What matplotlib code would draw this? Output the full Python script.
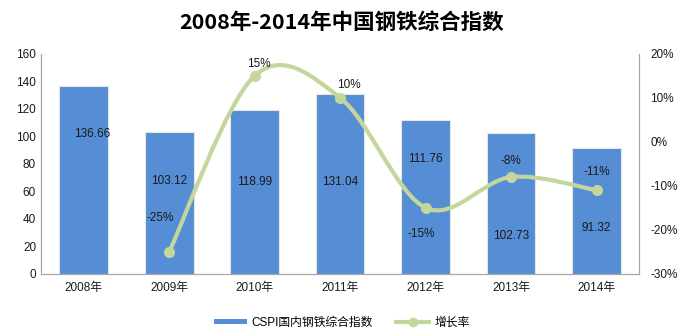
import matplotlib.pyplot as plt
import numpy as np
from matplotlib.path import Path
from matplotlib.patches import PathPatch, Patch
from matplotlib.lines import Line2D

plt.rcParams['font.family'] = ['Liberation Sans', 'Noto Sans CJK SC', 'DejaVu Sans']

years = ["2008年", "2009年", "2010年", "2011年", "2012年", "2013年", "2014年"]
cspi = [136.66, 103.12, 118.99, 131.04, 111.76, 102.73, 91.32]
growth_years = years[1:]
growth = [-25, 15, 10, -15, -8, -11]
growth_labels = ["-25%", "15%", "10%", "-15%", "-8%", "-11%"]

BAR_C = "#558ED5"
LINE_C = "#C3D69B"
AX_C = "#A6A6A6"

# label placement (moved by hand in the original)
bar_lab_y = [102, 67.6, 67, 67, 83.6, 27.6, 33.5]
bar_lab_dx = [0.1, 0, 0, 0, 0, 0, 0]
pct_lab_y = [-17.3, 17.7, 13, -20.9, -4.3, -6.8]
pct_lab_dx = [-0.1, 0.05, 0.1, -0.05, 0, 0]


def smooth_path(x, y, t=1 / 6):
    x, y = np.asarray(x, float), np.asarray(y, float)
    verts = [(x[0], y[0])]
    codes = [Path.MOVETO]
    n = len(x)
    for i in range(n - 1):
        p0 = (x[i - 1], y[i - 1]) if i > 0 else (x[i], y[i])
        p1 = (x[i], y[i])
        p2 = (x[i + 1], y[i + 1])
        p3 = (x[i + 2], y[i + 2]) if i + 2 < n else p2
        c1 = (p1[0] + (p2[0] - p0[0]) * t, p1[1] + (p2[1] - p0[1]) * t)
        c2 = (p2[0] - (p3[0] - p1[0]) * t, p2[1] - (p3[1] - p1[1]) * t)
        verts += [c1, c2, p2]
        codes += [Path.CURVE4] * 3
    return Path(verts, codes)


fig = plt.figure(figsize=(6.83, 3.36), dpi=100)
ax = fig.add_axes([0.060, 0.185, 0.876, 0.655])
ax2 = ax.twinx()

xs = np.arange(len(years))
ax.bar(xs, cspi, width=0.57, color=BAR_C, edgecolor="#E6E6E6", linewidth=0.8, zorder=2)
for i, v in enumerate(cspi):
    ax.text(xs[i] + bar_lab_dx[i], bar_lab_y[i], f"{v:.2f}", ha="center", va="center",
            fontsize=8.5, color="#1a1a1a", zorder=5)

ax.set_xlim(-0.5, len(years) - 0.5)
ax.set_ylim(0, 160)
ax.set_yticks(np.arange(0, 161, 20))
ax.set_xticks(xs)
ax.set_xticklabels(years)
ax.tick_params(axis="both", length=0, labelsize=8.5, colors="#1a1a1a")
ax.tick_params(axis="x", pad=6)

gx = xs[1:]
ax2.add_patch(PathPatch(smooth_path(gx, growth), fill=False, edgecolor=LINE_C, lw=3, zorder=3,
                        capstyle="round"))
ax2.plot(gx, growth, "o", color=LINE_C, ms=7, zorder=4)
for i, lab in enumerate(growth_labels):
    ax2.text(gx[i] + pct_lab_dx[i], pct_lab_y[i], lab, ha="center", va="center",
             fontsize=8.5, color="#1a1a1a", zorder=5)
ax2.set_ylim(-30, 20)
ax2.set_yticks(np.arange(-30, 21, 10))
ax2.set_yticklabels([f"{v}%" for v in range(-30, 21, 10)])
ax2.tick_params(axis="y", length=0, labelsize=8.5, colors="#1a1a1a", pad=8)

for a in (ax, ax2):
    a.spines["top"].set_visible(False)
    for s in ("left", "right", "bottom"):
        a.spines[s].set_color(AX_C)
        a.spines[s].set_linewidth(0.8)

fig.suptitle("2008年-2014年中国钢铁综合指数", fontsize=15.5, fontweight="bold",
             family=['Liberation Sans Narrow', 'Noto Sans CJK SC', 'DejaVu Sans'], y=0.965)

handles = [Patch(facecolor=BAR_C, edgecolor="none"),
           Line2D([], [], color=LINE_C, lw=3, marker="o", ms=6)]
fig.legend(handles, ["CSPI国内钢铁综合指数", "增长率"], loc="center", bbox_to_anchor=(0.5, 0.04),
           ncol=2, frameon=False, fontsize=8.5, handlelength=2.8, handleheight=0.35,
           columnspacing=2.0, handletextpad=0.4)

fig.savefig("out.png", dpi=100)
